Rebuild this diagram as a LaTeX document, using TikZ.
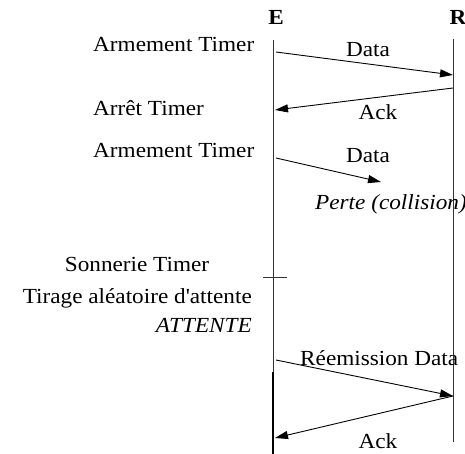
\documentclass[tikz,border=0pt]{standalone}
\usepackage{fontspec}
\setmainfont[FakeStretch=1.08,Ligatures=TeXOff]{Liberation Serif}
\usetikzlibrary{arrows.meta}
\begin{document}
\begin{tikzpicture}[x=1pt,y=-1pt,
  txt/.style={inner sep=0pt,font=\fontsize{21.5}{25}\selectfont},
  head/.style={inner sep=0pt,font=\fontsize{21.5}{25}\selectfont\bfseries},
  lifeline/.style={draw=black!80,line width=0.9pt},
  msg/.style={draw=black,line width=0.9pt,-{Triangle[length=13pt,width=8pt]}},
  tick/.style={draw=black!80,line width=0.9pt}]
  \useasboundingbox (0,0) rectangle (465,454);

  % actors
  \node[head,anchor=base] (E) at (276,25) {E};
  \node[head,anchor=base] (R) at (458,25) {R};

  % lifelines
  \coordinate (Etop) at (273,40);
  \coordinate (Emid) at (273,372);
  \coordinate (Ebot) at (273,454);
  \coordinate (Rtop) at (453,39);
  \coordinate (Rbot) at (453,442);
  \draw[lifeline] (Etop) -- (Emid);
  \draw[lifeline,draw=black,line width=2pt] (Emid) -- (Ebot);
  \draw[lifeline] (Rtop) -- (Rbot);

  % message end points
  \coordinate (s1) at (276,52);  \coordinate (t1) at (453,75);
  \coordinate (s2) at (453,88);  \coordinate (t2) at (275,110);
  \coordinate (s3) at (276,158); \coordinate (t3) at (381,182);
  \coordinate (s4) at (276,360); \coordinate (t4) at (453,396);
  \coordinate (t5) at (275,438);

  \draw[msg] (s1) -- (t1);
  \draw[msg] (s2) -- (t2);
  \draw[msg] (s3) -- (t3);
  \draw[msg] (s4) -- (t4);
  \draw[msg] (t4) -- (t5);

  % timer tick
  \coordinate (k1) at (263,277);
  \coordinate (k2) at (287,277);
  \draw[tick] (k1) -- (k2);

  % message labels
  \node[txt,anchor=base] (d1) at (368,57) {Data};
  \node[txt,anchor=base] (a1) at (378,120) {Ack};
  \node[txt,anchor=base] (d2) at (368,163) {Data};
  \node[txt,anchor=base west] (lost) at (315,210) {\itshape Perte (collision)};
  \node[txt,anchor=base west] (rd) at (300,365) {Réemission Data};
  \node[txt,anchor=base] (a2) at (378,448) {Ack};

  % sender side annotations
  \node[txt,anchor=base west] (arm1) at (93,52) {Armement Timer};
  \node[txt,anchor=base west] (stop) at (93,116) {Arrêt Timer};
  \node[txt,anchor=base west] (arm2) at (93,158) {Armement Timer};
  \node[txt,anchor=base] (ring) at (137,271) {Sonnerie Timer};
  \node[txt,anchor=base east] (draw) at (252,303) {Tirage aléatoire d'attente};
  \node[txt,anchor=base east] (wait) at (252,332) {\itshape ATTENTE};
\end{tikzpicture}
\end{document}
